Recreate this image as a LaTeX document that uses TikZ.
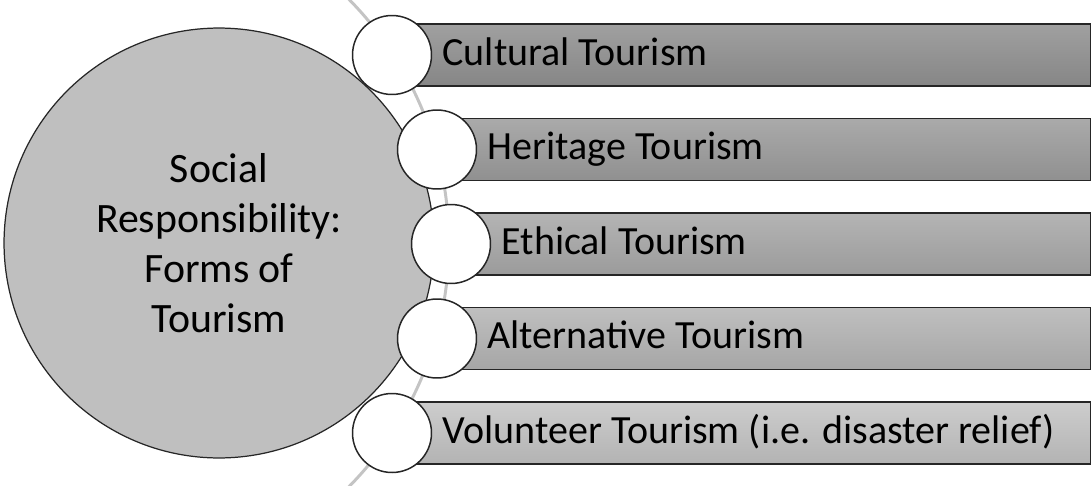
\documentclass[tikz,border=0pt]{standalone}
\usepackage{fontspec}
\setmainfont{Carlito}
\usetikzlibrary{positioning}
\definecolor{hubgray}{HTML}{BFBFBF}
\definecolor{ringgray}{HTML}{C4C4C4}
\definecolor{edgegray}{HTML}{262626}
\definecolor{bartop1}{HTML}{A0A0A0}\definecolor{barbot1}{HTML}{868686}
\definecolor{bartop2}{HTML}{AAAAAA}\definecolor{barbot2}{HTML}{909090}
\definecolor{bartop3}{HTML}{B4B4B4}\definecolor{barbot3}{HTML}{9B9B9B}
\definecolor{bartop4}{HTML}{BFBFBF}\definecolor{barbot4}{HTML}{A6A6A6}
\definecolor{bartop5}{HTML}{CDCDCD}\definecolor{barbot5}{HTML}{B3B3B3}
\newcommand\bigfont{\fontsize{22.76}{28.45}\selectfont}
\newcommand\hubfont{\fontsize{23.8}{28.45}\selectfont}
\tikzset{
  hub/.style={circle,draw=edgegray,line width=0.7pt,fill=hubgray,
    minimum size=8.6cm,align=center,font=\hubfont},
  ring/.style={ringgray,line width=1.7pt},
  bar/.style={draw=edgegray,line width=1pt,minimum height=1.24cm,
    anchor=west,inner sep=0pt},
  dot/.style={circle,draw=edgegray,line width=0.85pt,fill=white,
    minimum size=1.58cm,inner sep=0pt},
  itemtext/.style={font=\bigfont,inner sep=0pt,anchor=base west}
}
\begin{document}
\begin{tikzpicture}[x=0.02cm,y=0.02cm]
  \useasboundingbox (0,0) rectangle (1091,485);
  \draw[ring] (102,242) ++(-46:6.94cm) arc[start angle=-46,end angle=46,radius=6.94cm];
  \node[hub] (hub) at (219,242) {Social\\Responsibility:\\Forms of\\Tourism};
  \foreach \cx/\cy/\txt [count=\i] in {392/430/Cultural Tourism,
      437/335.5/Heritage Tourism,451/241/Ethical Tourism,
      437/146.5/Alternative Tourism,392/52/Volunteer Tourism (i.e. disaster relief)}{
    \node[bar,top color=bartop\i,bottom color=barbot\i,
      minimum width={(1090-\cx)*0.02cm}] (bar\i) at (\cx,\cy) {};
    \node[dot] (dot\i) at (\cx,\cy) {};
    \node[itemtext] (item\i) at ([xshift=0.2cm,yshift=-0.2cm]dot\i.east) {\txt};
  }
\end{tikzpicture}
\end{document}
